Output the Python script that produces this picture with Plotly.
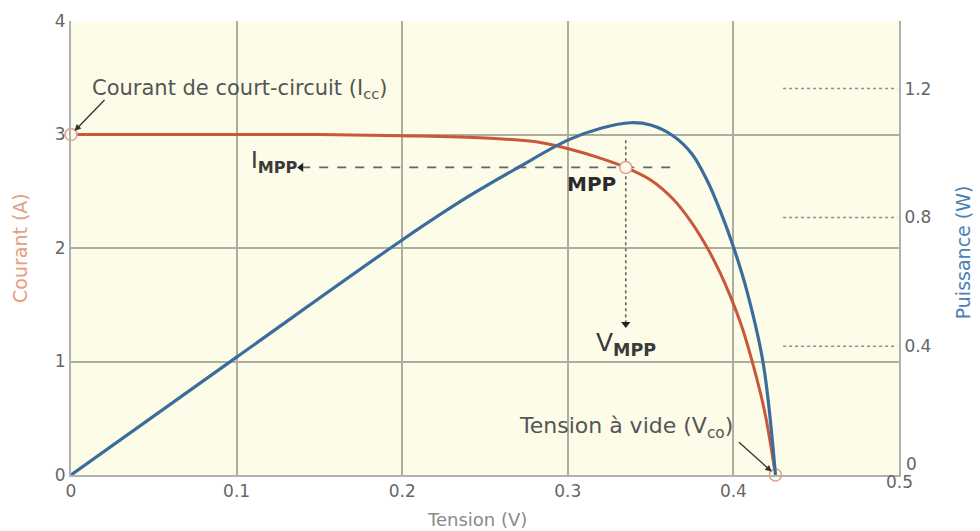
import plotly.graph_objects as go

# Courbe I-V de la cellule : tension (V) et courant (A)
v_courant = [0, 0.10, 0.15, 0.20, 0.25, 0.2834, 0.3015, 0.32, 0.335, 0.35, 0.3637,
             0.375, 0.3843, 0.392, 0.398, 0.405, 0.412, 0.419, 0.4254]
courant = [3.0, 3.0, 3.0, 2.99, 2.97, 2.93, 2.87, 2.79, 2.71, 2.60, 2.43,
           2.22, 2.00, 1.78, 1.58, 1.31, 0.965, 0.55, 0]

# Courbe P-V : tension (V) et puissance (W)
v_puissance = [0, 0.10, 0.20, 0.24, 0.27, 0.30, 0.32, 0.338, 0.35, 0.3637, 0.375,
               0.3843, 0.392, 0.40, 0.4085, 0.418, 0.4254]
puissance = [0, 0.366, 0.73, 0.865, 0.955, 1.04, 1.077, 1.094, 1.087, 1.053, 0.997,
             0.913, 0.821, 0.709, 0.565, 0.347, 0]

# Points remarquables
i_cc = 3.0
v_co = 0.4254
v_mpp = 0.335
i_mpp = 2.71

# Graduations
x_ticks = [0, 0.1, 0.2, 0.3, 0.4, 0.5]
x_ticktext = ["0", "0.1", "0.2", "0.3", "0.4", "0.5"]
y_ticks = [0, 1, 2, 3, 4]
y2_ticks = [0, 0.4, 0.8, 1.2]
y2_ticktext = ["0", "0.4", "0.8", "1.2"]

ORANGE = "#c9573b"
BLEU = "#3b6d9c"
GRILLE = "#aeaea0"
TEXTE = "#555555"
TICKS = "#666666"
FONT = "DejaVu Sans, Liberation Sans, Arial, sans-serif"

fig = go.Figure()

# Lignes de repère du point MPP (pointillés + pointes de flèche)
h_left, h_right = 0.139, 0.365
v_top, v_bottom = 2.95, 1.33
fig.add_trace(go.Scatter(x=[h_left, h_right], y=[i_mpp, i_mpp], mode="lines",
                         line=dict(color="#666", width=1.6, dash="dash"),
                         hoverinfo="skip", showlegend=False))
fig.add_trace(go.Scatter(x=[v_mpp, v_mpp], y=[v_top, v_bottom], mode="lines",
                         line=dict(color="#666", width=1.6, dash="dot"),
                         hoverinfo="skip", showlegend=False))
fig.add_trace(go.Scatter(x=[h_left], y=[i_mpp], mode="markers",
                         marker=dict(symbol="triangle-left", size=8, color="#222"),
                         hoverinfo="skip", showlegend=False))
fig.add_trace(go.Scatter(x=[v_mpp], y=[v_bottom], mode="markers",
                         marker=dict(symbol="triangle-down", size=8, color="#222"),
                         hoverinfo="skip", showlegend=False))

# Courbes
fig.add_trace(go.Scatter(x=v_courant, y=courant, mode="lines", name="Courant",
                         line=dict(color=ORANGE, width=3, shape="spline", smoothing=1.0),
                         showlegend=False))
fig.add_trace(go.Scatter(x=v_puissance, y=puissance, mode="lines", name="Puissance",
                         yaxis="y2",
                         line=dict(color=BLEU, width=3.2, shape="spline", smoothing=1.0),
                         showlegend=False))

# Points Icc, MPP, Vco
fig.add_trace(go.Scatter(x=[0, v_mpp, v_co], y=[i_cc, i_mpp, 0], mode="markers",
                         marker=dict(symbol="circle", size=12, color="#fffaf2",
                                     line=dict(color="#e2a080", width=1.5)),
                         cliponaxis=False, hoverinfo="skip", showlegend=False))

# Lignes pointillées des graduations de puissance
for t in y2_ticks[1:]:
    fig.add_shape(type="line", xref="x", yref="y2", x0=0.430, x1=0.499, y0=t, y1=t,
                  line=dict(color="#8f8f8f", width=1.5, dash="dot"))

annotations = [
    dict(x=0.1021, y=3.405, xref="x", yref="y", showarrow=False,
         text="Courant de court-circuit (I<sub>cc</sub>)",
         font=dict(family=FONT, size=21, color=TEXTE)),
    dict(x=0, y=i_cc, xref="x", yref="y", ax=35, ay=-36, text="", showarrow=True,
         arrowhead=2, arrowsize=1, arrowwidth=1.3, arrowcolor="#333", standoff=5),
    dict(x=0.3353, y=0.422, xref="x", yref="y", showarrow=False,
         text="Tension à vide (V<sub>co</sub>)",
         font=dict(family=FONT, size=22, color=TEXTE)),
    dict(x=v_co, y=0, xref="x", yref="y", ax=-38, ay=-34, text="", showarrow=True,
         arrowhead=2, arrowsize=1, arrowwidth=1.3, arrowcolor="#333", standoff=5),
    dict(x=0.3142, y=2.56, xref="x", yref="y", showarrow=False, text="<b>MPP</b>",
         font=dict(family=FONT, size=20, color="#2a2a2a")),
    dict(x=0.138, y=2.76, xref="x", yref="y", showarrow=False, xanchor="right",
         text="I<sub><b>MPP</b></sub>",
         font=dict(family=FONT, size=23, color="#3a3a3a")),
    dict(x=v_mpp, y=1.15, xref="x", yref="y", showarrow=False,
         text="V<sub><b>MPP</b></sub>",
         font=dict(family=FONT, size=25, color="#3a3a3a")),
    # Libellés du coin inférieur droit, décalés pour ne pas se chevaucher
    dict(x=x_ticks[-1], y=0, xref="x", yref="y", showarrow=False, yshift=-7,
         text=x_ticktext[-1], font=dict(family=FONT, size=17, color=TICKS)),
    dict(x=x_ticks[-1], y=y2_ticks[0], xref="x", yref="y2", showarrow=False,
         xanchor="left", xshift=5, yshift=11,
         text=y2_ticktext[0], font=dict(family=FONT, size=17, color=TICKS)),
    # Titres des axes
    dict(x=-0.0616, y=0.5, xref="paper", yref="paper", showarrow=False, textangle=-90,
         xanchor="center", yanchor="middle",
         text="Courant (A)", font=dict(family=FONT, size=19, color="#e3a07e")),
    dict(x=1.077, y=0.49, xref="paper", yref="paper", showarrow=False, textangle=-90,
         xanchor="center", yanchor="middle",
         text="Puissance (W)", font=dict(family=FONT, size=19, color="#4a82b5")),
    dict(x=0.49, y=-0.071, xref="paper", yref="paper", showarrow=False, yanchor="top",
         text="Tension (V)", font=dict(family=FONT, size=18, color="#8a8a8a")),
]

fig.update_layout(
    width=980, height=531,
    margin=dict(l=71, r=81, t=11, b=56),
    paper_bgcolor="white",
    plot_bgcolor="#fcfce8",
    font=dict(family=FONT, color=TICKS),
    annotations=annotations,
    xaxis=dict(range=[0, 0.5], tickvals=x_ticks[:-1], ticktext=x_ticktext[:-1],
               showgrid=True, gridcolor=GRILLE, gridwidth=1.6, zeroline=False,
               showline=True, linecolor="#b0b0b0", linewidth=2,
               tickfont=dict(size=17, color=TICKS), ticks=""),
    yaxis=dict(range=[0, 4], tickvals=y_ticks, showgrid=True, gridcolor=GRILLE,
               gridwidth=1.6, zeroline=False, showline=True, linecolor="#b0b0b0",
               linewidth=2, tickfont=dict(size=17, color=TICKS), ticks=""),
    yaxis2=dict(range=[0, 1.41], tickvals=y2_ticks[1:], ticktext=y2_ticktext[1:],
                overlaying="y", side="right", showgrid=False, zeroline=False,
                showline=True, linecolor="#b0b0b0", linewidth=2,
                tickfont=dict(size=17, color=TICKS), ticks=""),
)

fig.write_html("out.html")
